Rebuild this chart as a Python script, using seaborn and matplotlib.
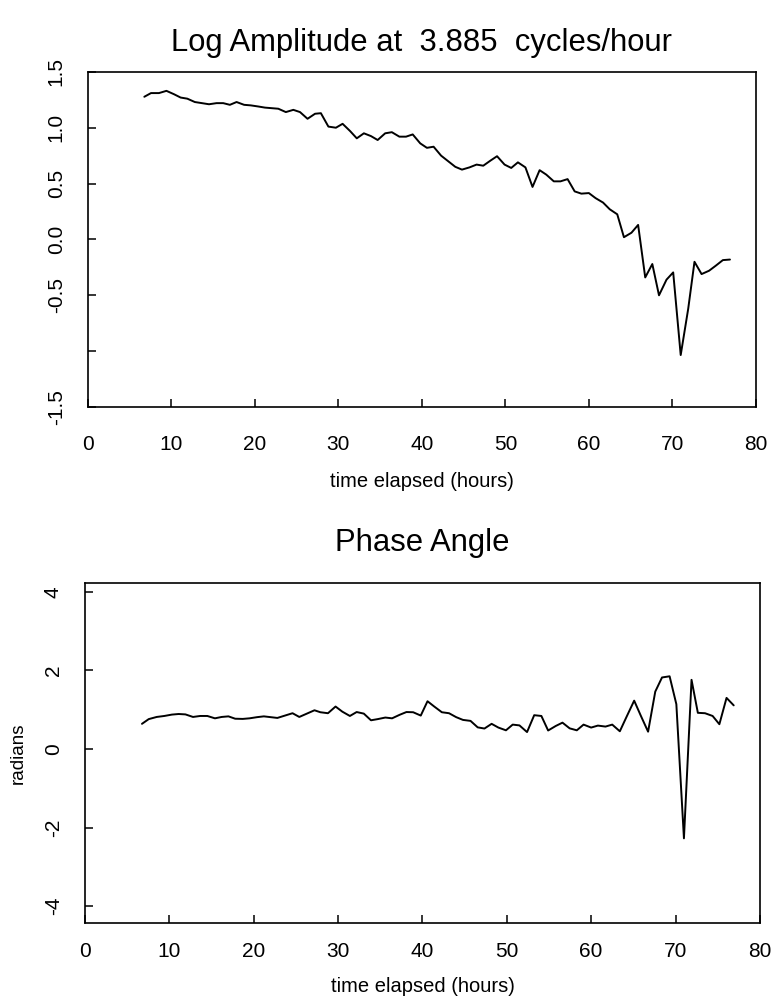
import numpy as np
import pandas as pd
import seaborn as sns
import matplotlib
matplotlib.use("Agg")
import matplotlib.pyplot as plt

# time axis (hours), shared by both panels
hours = [6.75, 7.55, 8.5, 9.4, 10.3, 11.1, 11.9, 12.8, 13.65, 14.5,
         15.4, 16.2, 17.0, 17.8, 18.7, 19.5, 20.4, 21.2, 22.0, 22.8,
         23.7, 24.6, 25.4, 26.3, 27.2, 27.9, 28.8, 29.7, 30.5, 31.4,
         32.2, 33.05, 33.9, 34.7, 35.6, 36.4, 37.3, 38.1, 38.9, 39.8,
         40.6, 41.4, 42.3, 43.15, 44.0, 44.8, 45.7, 46.55, 47.35, 48.2,
         49.0, 49.9, 50.7, 51.5, 52.4, 53.25, 54.1, 54.9, 55.8, 56.6,
         57.45, 58.3, 59.1, 60.0, 60.8, 61.7, 62.5, 63.4, 64.2, 65.1,
         65.9, 66.75, 67.6, 68.4, 69.3, 70.1, 71.0, 71.9, 72.65, 73.5,
         74.4, 75.2, 76.05, 76.9]

log_amp = [1.277, 1.31, 1.31, 1.33, 1.30, 1.27, 1.26, 1.23, 1.22, 1.21,
           1.22, 1.22, 1.205, 1.23, 1.205, 1.20, 1.19, 1.18, 1.175, 1.17,
           1.14, 1.16, 1.14, 1.08, 1.125, 1.13, 1.01, 1.00, 1.035, 0.97,
           0.905, 0.95, 0.925, 0.89, 0.95, 0.96, 0.92, 0.92, 0.94, 0.86,
           0.82, 0.83, 0.75, 0.70, 0.65, 0.625, 0.645, 0.67, 0.66, 0.705,
           0.745, 0.67, 0.64, 0.69, 0.645, 0.47, 0.62, 0.58, 0.52, 0.52,
           0.54, 0.43, 0.41, 0.415, 0.37, 0.33, 0.27, 0.225, 0.02, 0.06,
           0.13, -0.34, -0.22, -0.50, -0.36, -0.295, -1.035, -0.62, -0.20, -0.31,
           -0.28, -0.235, -0.185, -0.18]

phase = [0.64, 0.76, 0.815, 0.84, 0.875, 0.89, 0.88, 0.815, 0.84, 0.84,
         0.78, 0.815, 0.83, 0.77, 0.765, 0.78, 0.81, 0.83, 0.81, 0.79,
         0.85, 0.91, 0.815, 0.90, 0.985, 0.935, 0.91, 1.08, 0.95, 0.84,
         0.94, 0.90, 0.73, 0.76, 0.80, 0.78, 0.87, 0.94, 0.935, 0.85,
         1.215, 1.08, 0.935, 0.91, 0.81, 0.74, 0.715, 0.55, 0.52, 0.64,
         0.545, 0.475, 0.62, 0.60, 0.43, 0.86, 0.84, 0.47, 0.585, 0.67,
         0.525, 0.475, 0.62, 0.545, 0.595, 0.57, 0.62, 0.45, 0.82, 1.23,
         0.84, 0.44, 1.46, 1.82, 1.85, 1.14, -2.275, 1.76, 0.92, 0.91,
         0.84, 0.63, 1.30, 1.11]

x_ticks = [0, 10, 20, 30, 40, 50, 60, 70, 80]
amp_ticks = [-1.5, -1.0, -0.5, 0.0, 0.5, 1.0, 1.5]
amp_labels = ["-1.5", "", "-0.5", "0.0", "0.5", "1.0", "1.5"]
phase_ticks = [-4, -2, 0, 2, 4]

df = pd.DataFrame({"hours": hours, "log_amp": log_amp, "phase": phase})

sns.set_style("ticks")
plt.rcParams["font.family"] = ["Liberation Sans", "DejaVu Sans"]
plt.rcParams["text.color"] = "black"
plt.rcParams["axes.labelcolor"] = "black"

fig = plt.figure(figsize=(7.73, 10.05), dpi=100)
ax1 = fig.add_axes([0.1138, 0.595, 0.864, 0.3335])
ax2 = fig.add_axes([0.110, 0.0816, 0.873, 0.3385])

sns.lineplot(data=df, x="hours", y="log_amp", ax=ax1, color="black",
             linewidth=1.4, estimator=None)
sns.lineplot(data=df, x="hours", y="phase", ax=ax2, color="black",
             linewidth=1.4, estimator=None)

ax1.set_ylim(-1.5, 1.5)
ax1.set_yticks(amp_ticks)
ax1.set_yticklabels(amp_labels)
ax1.set_title("Log Amplitude at  3.885  cycles/hour", fontsize=22.3,
              pad=15, color="black")
ax1.set_ylabel("")
ax1.set_xlabel("time elapsed (hours)", fontsize=14.5, labelpad=13)
ax1.tick_params(axis="x", pad=20)

ax2.set_ylim(-4.43, 4.23)
ax2.set_yticks(phase_ticks)
ax2.set_yticklabels([str(t) for t in phase_ticks])
ax2.set_title("Phase Angle", fontsize=22.3, pad=23, color="black")
ax2.set_ylabel("radians", fontsize=13.5, labelpad=12)
ax2.set_xlabel("time elapsed (hours)", fontsize=14.5, labelpad=11)
ax2.tick_params(axis="x", pad=14)

for ax in (ax1, ax2):
    ax.set_xlim(0, 80)
    ax.set_xticks(x_ticks)
    for s in ax.spines.values():
        s.set_visible(True)
        s.set_color("black")
        s.set_linewidth(1.2)
    ax.tick_params(axis="both", direction="in", length=6, width=1.1,
                   colors="black", labelsize=15)
    ax.tick_params(axis="y", pad=16)
    for lab in ax.get_yticklabels():
        lab.set_rotation(90)
        lab.set_va("center")

fig.savefig("out.png", dpi=100)
